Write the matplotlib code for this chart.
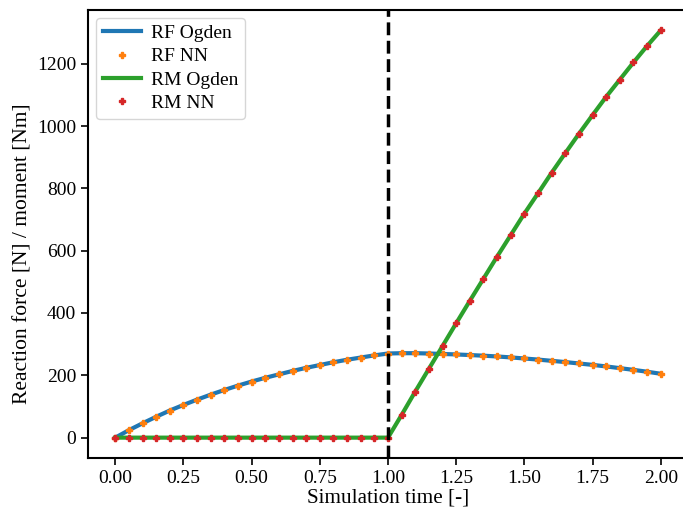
import matplotlib
matplotlib.use("Agg")
import matplotlib.pyplot as plt

plt.rcParams["font.family"] = "Liberation Serif"
plt.rcParams["font.size"] = 14

# simulation time steps
t = [0.00, 0.05, 0.10, 0.15, 0.20, 0.25, 0.30, 0.35, 0.40, 0.45,
     0.50, 0.55, 0.60, 0.65, 0.70, 0.75, 0.80, 0.85, 0.90, 0.95,
     1.00, 1.05, 1.10, 1.15, 1.20, 1.25, 1.30, 1.35, 1.40, 1.45,
     1.50, 1.55, 1.60, 1.65, 1.70, 1.75, 1.80, 1.85, 1.90, 1.95, 2.00]

# reaction force [N]
rf_ogden = [0, 24, 46, 67, 87, 105, 122, 138, 153, 167,
            180, 192, 203, 214, 224, 233, 242, 250, 257, 264,
            270, 271, 271, 270, 268.5, 267, 265, 263, 260.5, 257.5,
            254, 250.5, 246.5, 242.5, 238, 233.5, 228.5, 223, 217.5, 211.5, 205]
rf_nn = rf_ogden

# reaction moment [Nm]
rm_ogden = [0] * 21 + [73, 148, 221, 294, 367, 439, 510, 581, 650, 719,
                       784, 850, 913, 975, 1035, 1094, 1149, 1204, 1257, 1307]
rm_nn = rm_ogden

t_switch = 1.0

fig = plt.figure(figsize=(6.83, 5.08), dpi=100)
ax = fig.add_axes([88 / 683, 50 / 508, 600 / 683, 448 / 508])

ax.plot(t, rf_ogden, color="tab:blue", lw=3, label="RF Ogden")
ax.plot(t, rf_nn, ls="none", marker="P", ms=5, color="tab:orange", label="RF NN")
ax.plot(t, rm_ogden, color="tab:green", lw=3, label="RM Ogden")
ax.plot(t, rm_nn, ls="none", marker="P", ms=5, color="tab:red", label="RM NN")
ax.axvline(t_switch, color="black", ls="--", lw=2.5)

ax.set_xticks([0, 0.25, 0.5, 0.75, 1.0, 1.25, 1.5, 1.75, 2.0])
ax.xaxis.set_major_formatter(matplotlib.ticker.FormatStrFormatter("%.2f"))
ax.set_xlabel("Simulation time [-]", fontsize=15.2, labelpad=1)
ax.set_ylabel("Reaction force [N] / moment [Nm]", fontsize=15.5)
ax.yaxis.set_label_coords(-0.092, 0.455)

for s in ax.spines.values():
    s.set_linewidth(1.5)
ax.tick_params(width=1.2, length=5)

ax.legend(loc="upper left", fontsize=14, handlelength=2, borderpad=0.35,
          labelspacing=0.29, handletextpad=0.5, borderaxespad=0.4)

fig.savefig("out.png", dpi=100)
